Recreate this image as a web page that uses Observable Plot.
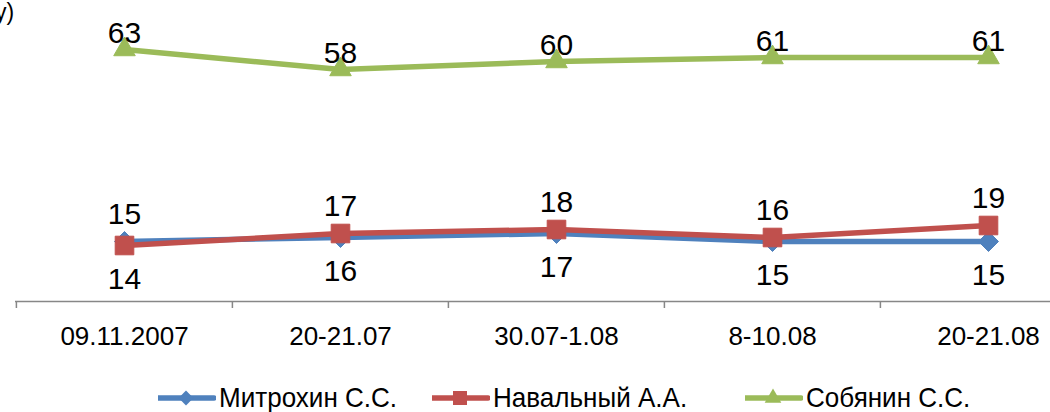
<!DOCTYPE html>
<html>
<head>
<meta charset="utf-8">
<script src="https://cdn.jsdelivr.net/npm/d3@7"></script>
<script src="https://cdn.jsdelivr.net/npm/@observablehq/plot@0.6"></script>
<style>
  html, body { margin: 0; padding: 0; background: #fff; overflow: hidden; }
  #wrap { position: relative; width: 1050px; height: 412px; }
  #corner { position: absolute; left: -5px; top: -1px; font: 23px "Liberation Sans", Arial, sans-serif; color: #000; }
  .leg { position: absolute; top: 380px; height: 36px; display: flex; align-items: center; color: #000; white-space: nowrap; }
  .leg svg { display: block; margin-right: 3px; }
  .leg span { display: inline-block; font: 28px "Liberation Sans", Arial, sans-serif; transform: scaleX(0.93); transform-origin: left center; }
</style>
</head>
<body>
<div id="wrap"><div id="corner">у)</div></div>
<script>
const categories = ["09.11.2007", "20-21.07", "30.07-1.08", "8-10.08", "20-21.08"];
const seriesNames = ["Митрохин С.С.", "Навальный А.А.", "Собянин С.С."];
const mitrokhin = [15, 16, 17, 15, 15];
const navalny = [14, 17, 18, 16, 19];
const sobyanin = [63, 58, 60, 61, 61];
const colors = ["#4F81BD", "#C0504D", "#9BBB59"];
const symbols = ["diamond2", "square", "triangle"];

const seriesValues = [mitrokhin, navalny, sobyanin];
const data = [];
seriesValues.forEach((vals, s) => {
  vals.forEach((v, i) => {
    let pos = "top";
    if (s === 0) pos = v > navalny[i] ? "above" : "below";
    if (s === 1) pos = v > mitrokhin[i] ? "above" : "below";
    data.push({series: seriesNames[s], cat: categories[i], value: v, pos});
  });
});

const W = 1050, H = 370, mL = 15, mR = -46;
const bw = (W - mR - mL) / categories.length;
const font = '"Liberation Sans", Arial, sans-serif';
const rs = [9, 10.5, 8];

const marks = [
  Plot.ruleY([0], {stroke: "#878787", strokeWidth: 1.5}),
  Plot.axisX({tickSize: 7, tickFormat: () => "", dx: -bw / 2, stroke: "#878787", strokeWidth: 1.5, label: null}),
  Plot.axisX({tickSize: 0, tickPadding: 25, fontSize: 26, fill: "#000", label: null})
];
seriesNames.forEach((name, s) => {
  const rows = data.filter(d => d.series === name);
  marks.push(Plot.line(rows, {x: "cat", y: "value", stroke: colors[s], strokeWidth: 5.5}));
  marks.push(Plot.dot(rows, {x: "cat", y: "value", symbol: () => symbols[s], r: rs[s], fill: colors[s], stroke: colors[s], strokeWidth: 1}));
});
const label = (filter, dy) => Plot.text(data.filter(filter), {
  x: "cat", y: "value", text: d => String(d.value), dy, fontSize: 30, fill: "#000"
});
marks.push(label(d => d.pos === "top", -16));
marks.push(label(d => d.pos === "above", -27));
marks.push(label(d => d.pos === "below", 34));

const chart = Plot.plot({
  width: W, height: H,
  marginTop: 21, marginBottom: 69, marginLeft: mL, marginRight: mR,
  x: {type: "band", domain: categories, padding: 0, axis: null, label: null},
  y: {domain: [0, 70], axis: null, label: null},
  style: {fontFamily: font, background: "white", color: "#000", overflow: "visible"},
  marks
});
const wrap = document.getElementById("wrap");
wrap.insertBefore(chart, wrap.firstChild);

// legend
const legLefts = [158, 432, 745];
const legSizes = [
  {type: d3.symbolDiamond2, size: 140},
  {type: d3.symbolSquare, size: 196},
  {type: d3.symbolTriangle, size: 120}
];
seriesNames.forEach((name, s) => {
  const item = document.createElement("div");
  item.className = "leg";
  item.style.left = legLefts[s] + "px";
  const svg = d3.create("svg").attr("width", 58).attr("height", 30);
  svg.append("line").attr("x1", 0).attr("x2", 56).attr("y1", 15).attr("y2", 15)
    .attr("stroke", colors[s]).attr("stroke-width", 5.5).attr("stroke-linecap", "round");
  svg.append("path").attr("d", d3.symbol(legSizes[s].type, legSizes[s].size)())
    .attr("transform", "translate(28,15)").attr("fill", colors[s]);
  item.appendChild(svg.node());
  const span = document.createElement("span");
  span.textContent = name;
  item.appendChild(span);
  wrap.appendChild(item);
});
</script>
</body>
</html>
